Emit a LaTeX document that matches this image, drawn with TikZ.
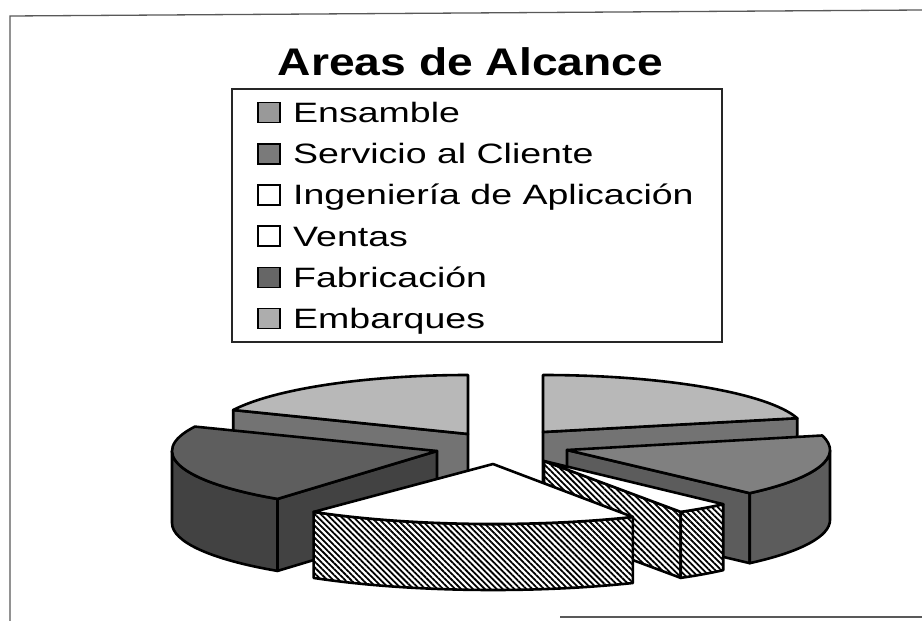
\documentclass[tikz,border=0pt]{standalone}
\usepackage{fontspec}
\setmainfont{Liberation Sans}
\newfontfamily\titlefont{Liberation Sans}[FakeStretch=1.2]
\newfontfamily\legfont{Liberation Sans}[FakeStretch=1.34]
\usetikzlibrary{patterns.meta}
\tikzset{
  pieline/.style={draw=black, line width=2.6pt, line join=round},
  lighttop/.style={pieline, fill=black!28},
  medface/.style={pieline, fill=black!55},
  darktop/.style={pieline, fill=black!63},
  darkside/.style={pieline, fill=black!74},
  servtop/.style={pieline, fill=black!50},
  servside/.style={pieline, fill=black!64},
  whitetop/.style={pieline, fill=white},
  hatchface/.style={pieline, preaction={fill=white}, pattern={Lines[angle=-45,distance=4.2pt,line width=1.8pt]}, pattern color=black},
  legbox/.style={draw=black, line width=1.6pt, minimum width=22pt, minimum height=20pt, inner sep=0pt},
  legtext/.style={anchor=base west, inner sep=0pt, font=\legfont\fontsize{28}{30}\selectfont},
  framecol/.style={draw=black!65, line width=1.3pt}
}
\begin{document}
\begin{tikzpicture}[x=1pt,y=1pt]
\useasboundingbox (0,0) rectangle (922,-621);
\fill[white] (0,0) rectangle (922,-621);
% frame
\draw[framecol] (10,-621) -- (10,-16) -- (922,-10);
\draw[framecol] (560,-617) -- (922,-617);
% title
\node[anchor=base, inner sep=0pt, font=\titlefont\bfseries\fontsize{38.5}{40}\selectfont] (title) at (470.5,-75) {Areas de Alcance};
% legend
\node[draw=black!85, line width=1.2pt, minimum width=490pt, minimum height=253pt, inner sep=0pt] (legend) at (477,-215.5) {};
\node[legbox, fill=black!40] (s1) at (269,-112.5) {};
\node[legtext] (t1) at (293,-122.5) {Ensamble};
\node[legbox, fill=black!52] (s2) at (269,-153.7) {};
\node[legtext] (t2) at (293,-163.7) {Servicio al Cliente};
\node[legbox, fill=white] (s3) at (269,-194.9) {};
\node[legtext] (t3) at (293,-204.9) {Ingeniería de Aplicación};
\node[legbox, fill=white] (s4) at (269,-236.1) {};
\node[legtext] (t4) at (293,-246.1) {Ventas};
\node[legbox, fill=black!60] (s5) at (269,-277.3) {};
\node[legtext] (t5) at (293,-287.3) {Fabricación};
\node[legbox, fill=black!32] (s6) at (269,-318.5) {};
\node[legtext] (t6) at (293,-328.5) {Embarques};
% ---- pie ----
% Embarques (back left)
\begin{scope}[shift={(468,-434)}]
  \path[medface] (0,0) -- (156:257 and 59) -- ++(0,-68) -- (0,-68) -- cycle;
  \path[lighttop] (0,0) -- (90:257 and 59) arc[start angle=90, end angle=156, x radius=257, y radius=59] -- cycle;
\end{scope}
% Ensamble (back right)
\begin{scope}[shift={(543,-432)}]
  \path[medface] (0,0) -- (14:262 and 57) -- ++(0,-68) -- (0,-68) -- cycle;
  \path[lighttop] (0,0) -- (14:262 and 57) arc[start angle=14, end angle=90, x radius=262, y radius=57] -- cycle;
\end{scope}
% Fabricacion (left)
\begin{scope}[shift={(437,-451)}]
  \path[darkside] (0,0) -- (233:265 and 60) -- ++(0,-72) -- (0,-72) -- cycle;
  \path[darkside] (180:265 and 60) arc[start angle=180, end angle=233, x radius=265, y radius=60] -- ++(0,-72) arc[start angle=233, end angle=180, x radius=265, y radius=60] -- cycle;
  \path[darktop] (0,0) -- (156:265 and 60) arc[start angle=156, end angle=233, x radius=265, y radius=60] -- cycle;
\end{scope}
% Servicio al Cliente (right)
\begin{scope}[shift={(567,-450)}]
  \path[servside] (0,0) -- (314:263 and 60) -- ++(0,-70) -- (0,-70) -- cycle;
  \path[servside] (314:263 and 60) arc[start angle=314, end angle=360, x radius=263, y radius=60] -- ++(0,-70) arc[start angle=360, end angle=314, x radius=263, y radius=60] -- cycle;
  \path[servtop] (0,0) -- (314:263 and 60) arc[start angle=314, end angle=374, x radius=263, y radius=60] -- cycle;
\end{scope}
% Ingenieria de Aplicacion (thin)
\begin{scope}[shift={(544,-461)}]
  \path[hatchface] (0,0) -- (302:258 and 60) -- ++(0,-66) -- (0,-66) -- cycle;
  \path[hatchface] (302:258 and 60) arc[start angle=302, end angle=314, x radius=258, y radius=60] -- ++(0,-66) arc[start angle=314, end angle=302, x radius=258, y radius=60] -- cycle;
  \path[whitetop] (0,0) -- (302:258 and 60) arc[start angle=302, end angle=314, x radius=258, y radius=60] -- cycle;
\end{scope}
% Ventas (front)
\begin{scope}[shift={(493,-464)}]
  \path[hatchface] (233:298 and 60) arc[start angle=233, end angle=298, x radius=298, y radius=60] -- ++(0,-66) arc[start angle=298, end angle=233, x radius=298, y radius=60] -- cycle;
  \path[whitetop] (0,0) -- (233:298 and 60) arc[start angle=233, end angle=298, x radius=298, y radius=60] -- cycle;
\end{scope}
\end{tikzpicture}
\end{document}
